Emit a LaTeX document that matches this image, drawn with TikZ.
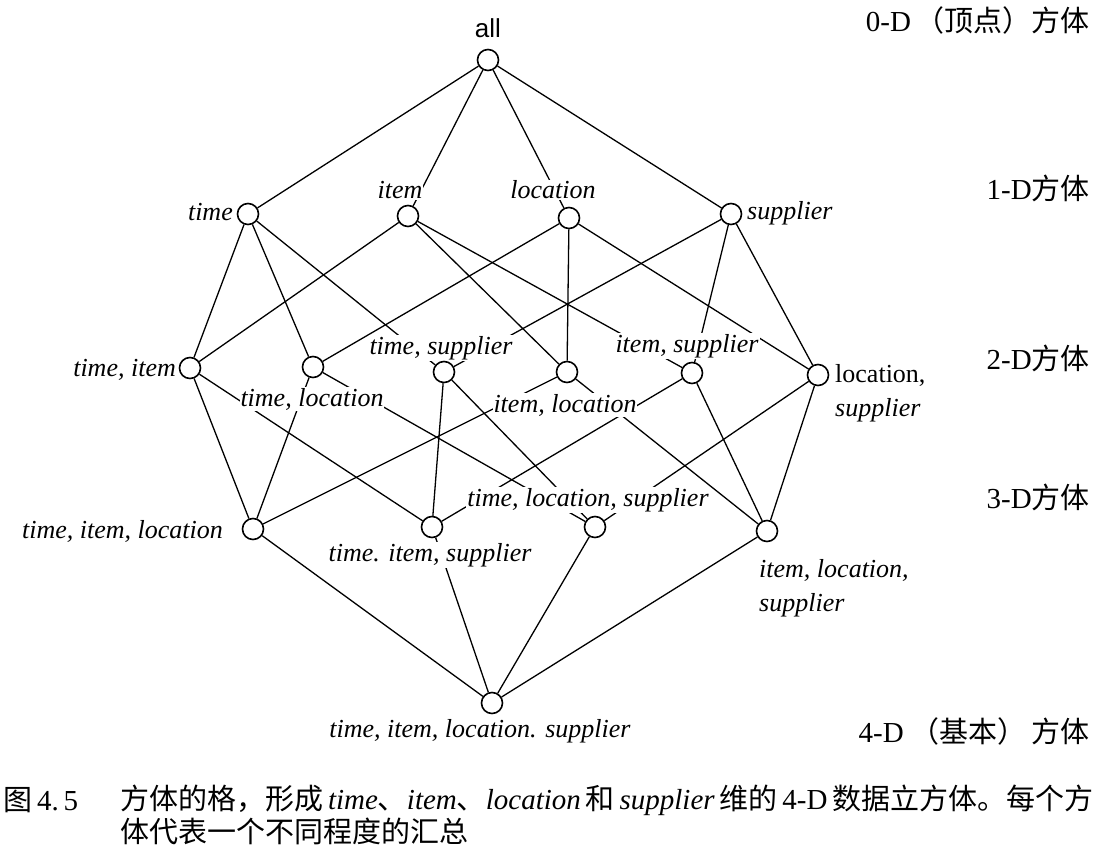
\documentclass[tikz,border=0pt]{standalone}
\usepackage{fontspec}
\setmainfont{Liberation Serif}
\newfontfamily\cjk{Noto Sans CJK SC}
\newfontfamily\allfont{Liberation Sans}
\newcommand{\zh}[1]{{\cjk #1}}
\pgfdeclarelayer{edges}
\pgfdeclarelayer{labels}
\pgfsetlayers{edges,labels,main}

\begin{document}
\begin{tikzpicture}[x=1pt, y=-1pt,
    cube/.style={circle, draw, fill=white, minimum size=21pt, inner sep=0pt, line width=1.6pt},
    lbl/.style={font=\fontsize{26}{30}\selectfont\itshape, fill=white, inner sep=1pt},
    level/.style={font=\fontsize{29}{30}\selectfont, anchor=east, inner sep=0pt},
    link/.style={line width=1.3pt}]
    \useasboundingbox (0,0) rectangle (1114,854);

    % Cubes
    \node[cube] (A0) at (488, 60) {};

    \node[cube] (T1) at (248, 214) {};
    \node[cube] (I1) at (408, 216) {};
    \node[cube] (L1) at (569, 218) {};
    \node[cube] (S1) at (731, 214) {};

    \node[cube] (TI2) at (190, 368) {};
    \node[cube] (TL2) at (313, 367) {};
    \node[cube] (TS2) at (444, 372) {};
    \node[cube] (IL2) at (567, 372) {};
    \node[cube] (IS2) at (692, 373) {};
    \node[cube] (LS2) at (818, 375) {};

    \node[cube] (TIL3) at (253, 529) {};
    \node[cube] (TIS3) at (432, 527) {};
    \node[cube] (TLS3) at (595, 527) {};
    \node[cube] (ILS3) at (767, 531) {};

    \node[cube] (B4) at (492, 703) {};

    % Cube labels
    \begin{pgfonlayer}{labels}
    \node[lbl, font=\fontsize{26}{30}\selectfont\allfont] (lA0) at (488, 28) {all};
    \node[lbl, anchor=east] (lT1) at (234, 212) {time};
    \node[lbl] (lI1) at (400, 190) {item};
    \node[lbl] (lL1) at (553, 190) {location};
    \node[lbl, anchor=west] (lS1) at (746, 213) {supplier};
    \node[lbl, anchor=east] (lTI2) at (177, 370) {time, item};
    \node[lbl] (lTL2) at (312, 399) {time, location};
    \node[lbl] (lTS2) at (441, 348) {time, supplier};
    \node[lbl] (lIL2) at (565, 405) {item, location};
    \node[lbl] (lIS2) at (687, 346) {item, supplier};
    \node[lbl, anchor=north west, align=left, font=\fontsize{26}{34}\selectfont] (lLS2) at (834, 363) {location,\\\textit{supplier}};
    \node[lbl, anchor=east] (lTIL3) at (224, 531) {time, item, location};
    \node[lbl] (lTIS3) at (430, 555) {time. item, supplier};
    \node[lbl] (lTLS3) at (588, 500) {time, location, supplier};
    \node[lbl, anchor=north west, align=left, font=\fontsize{26}{34}\selectfont\itshape] (lILS3) at (758, 558) {item, location,\\supplier};
    \node[lbl] (lB4) at (480, 731) {time, item, location. supplier};
    \end{pgfonlayer}

    % Levels
    \node[level] (V0) at (1090, 20) {0-D\,\zh{（顶点）方体}};
    \node[level] (V1) at (1090, 188) {1-D\zh{方体}};
    \node[level] (V2) at (1090, 358) {2-D\zh{方体}};
    \node[level] (V3) at (1090, 497) {3-D\zh{方体}};
    \node[level] (V4) at (1090, 731) {4-D\ \zh{（基本）}\,\zh{方体}};

    % Caption
    \node[anchor=west, inner sep=0pt, font=\fontsize{29}{30}\selectfont] (cap0) at (3, 800) {\zh{图}\,4.\,5};
    \node[anchor=west, inner sep=0pt, font=\fontsize{29}{30}\selectfont] (cap1) at (120, 800)
        {\zh{方体的格，形成}\,\textit{time}\zh{、}\textit{item}\zh{、}\textit{location}\,\zh{和}\,\textit{supplier}\,\zh{维的}\,4-D\,\zh{数据立方体。每个方}};
    \node[anchor=west, inner sep=0pt, font=\fontsize{29}{30}\selectfont] (cap2) at (120, 831) {\zh{体代表一个不同程度的汇总}};

    % Links
    \begin{pgfonlayer}{edges}
    \draw[link] (A0) -- (T1);
    \draw[link] (A0) -- (I1);
    \draw[link] (A0) -- (L1);
    \draw[link] (A0) -- (S1);

    \draw[link] (T1) -- (TI2);
    \draw[link] (T1) -- (TL2);
    \draw[link] (T1) -- (TS2);
    \draw[link] (I1) -- (TI2);
    \draw[link] (I1) -- (IL2);
    \draw[link] (I1) -- (IS2);
    \draw[link] (L1) -- (TL2);
    \draw[link] (L1) -- (IL2);
    \draw[link] (L1) -- (LS2);
    \draw[link] (S1) -- (TS2);
    \draw[link] (S1) -- (IS2);
    \draw[link] (S1) -- (LS2);

    \draw[link] (TI2) -- (TIL3);
    \draw[link] (TI2) -- (TIS3);
    \draw[link] (TL2) -- (TIL3);
    \draw[link] (TL2) -- (TLS3);
    \draw[link] (TS2) -- (TIS3);
    \draw[link] (TS2) -- (TLS3);
    \draw[link] (IL2) -- (TIL3);
    \draw[link] (IL2) -- (ILS3);
    \draw[link] (IS2) -- (TIS3);
    \draw[link] (IS2) -- (ILS3);
    \draw[link] (LS2) -- (TLS3);
    \draw[link] (LS2) -- (ILS3);

    \draw[link] (TIL3) -- (B4);
    \draw[link] (TIS3) -- (B4);
    \draw[link] (TLS3) -- (B4);
    \draw[link] (ILS3) -- (B4);
    \end{pgfonlayer}
\end{tikzpicture}
\end{document}
